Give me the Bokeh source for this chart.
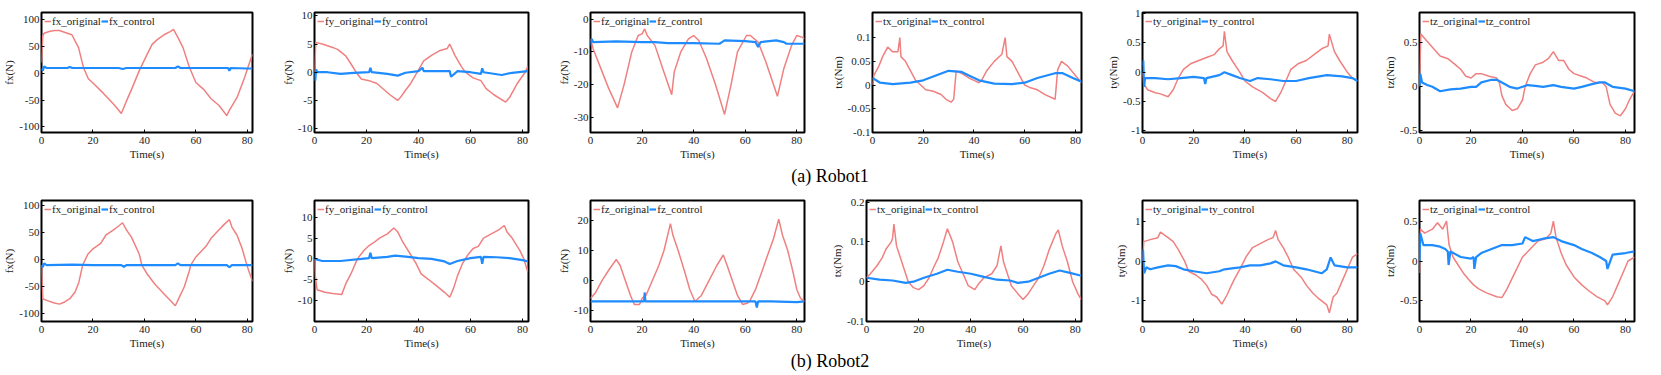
from bokeh.plotting import figure
from bokeh.models import Range1d, FixedTicker, CustomJSTickFormatter, Legend, LegendItem, Div
from bokeh.layouts import row, column
from bokeh.embed import file_html
from bokeh.resources import INLINE

RED = "#F08080"
BLUE = "#1E8CFF"
FONT = "Liberation Serif"

x_ticks = [0, 20, 40, 60, 80]
x_max = [82, 82.3, 83, 82.4, 84, 83.5]
names = ["fx", "fy", "fz", "tx", "ty", "tz"]
units = ["N", "N", "N", "Nm", "Nm", "Nm"]

# ---------------- Robot1 ----------------
r1_fx_ot = [0, 0.5, 1, 3, 5, 7, 10, 11.8, 14.4, 16.3, 18.2, 20, 24, 26.5, 29, 31, 33, 35, 38, 39.5, 41, 43, 45, 48, 50, 51.3, 53, 55, 57.5, 60, 63, 66, 69, 72, 73, 76, 79, 80.5, 82]
r1_fx_o = [20, 70, 75, 78, 80, 80, 75, 72, 48, 11, -10, -18, -37, -50, -63, -75, -52, -30, 5, 20, 35, 54, 63, 73, 78, 82, 67, 48, 11, -17, -30, -48, -60, -79, -69, -45, -7, 15, 36]
r1_fx_ct = [0, 0.5, 1, 2, 10, 11, 12, 20, 30, 31.5, 33, 45, 52, 53, 54, 65, 72.5, 73, 73.5, 80, 82]
r1_fx_c = [9, 5, 13, 10, 10, 12, 10, 10, 10, 8, 10, 10, 10, 13, 10, 10, 10, 5, 10, 9, 9]

r1_fy_ot = [0, 0.5, 3, 7, 9, 12, 14, 16, 18, 21, 24, 26, 29, 32, 33, 35, 37, 39.5, 42, 45, 48, 51, 52, 54, 56.5, 58, 61, 64, 66, 69, 73.5, 75, 78, 81, 82]
r1_fy_o = [0, 5.3, 5, 4.4, 4, 2.9, 1.5, 0, -1.2, -1.5, -2, -2.8, -4, -5, -4.5, -3.2, -2, 0, 2, 3, 3.8, 4.2, 5, 3, 1, 0, -1, -1.5, -2.9, -4, -5.3, -4.5, -2, 0, 1]
r1_fy_ct = [0, 0.3, 0.6, 1, 5, 10, 15, 21, 21.5, 22, 28, 32, 35, 40, 41.5, 42, 50, 52, 52.5, 55, 60, 64, 64.5, 65, 72, 76, 82]
r1_fy_c = [0, -1.5, 0.5, 0, 0, -0.3, -0.1, 0, 0.8, 0, -0.3, -0.6, -0.1, 0.2, 0.8, 0.2, 0.2, 0.2, -0.8, 0.2, 0, -0.3, 0.7, 0, -0.5, -0.1, 0.2]

r1_fz_ot = [0, 1, 4, 7, 10.5, 13, 16, 18.5, 20, 21, 22, 25, 28, 31.5, 32.5, 35, 38, 40, 42, 45, 48.5, 52, 54.5, 57, 60.5, 62, 65, 68, 72.5, 75, 78, 80, 82, 83]
r1_fz_o = [-6, -9, -15, -21, -27, -20, -10, -5, -4.5, -3, -5, -8, -15, -23, -16, -10, -6, -5, -6.5, -12, -20, -29, -20, -10, -5, -5, -7, -13, -23.5, -15, -8, -5, -5.5, -6]
r1_fz_ct = [0, 0.5, 1, 10, 20, 25, 30, 40, 50, 51, 52, 60, 64, 65, 66, 72, 75, 76, 83]
r1_fz_c = [-8, -6, -7, -6.8, -7, -7, -7.3, -7.3, -7.5, -7, -6.5, -6.7, -7, -8.5, -7, -6.5, -7, -7.5, -7.5]

r1_tx_ot = [0, 0.5, 2.5, 4, 6, 8, 10, 10.8, 11.2, 13, 15, 17, 19, 21, 24, 27, 29, 31, 32, 33, 35, 38, 40, 42, 43, 45, 48, 51, 52.3, 53, 55, 58, 60, 62, 65, 68, 72, 73, 74.5, 77, 80, 82.4]
r1_tx_o = [0, 0.02, 0.04, 0.06, 0.08, 0.07, 0.07, 0.1, 0.06, 0.05, 0.03, 0.01, 0, -0.01, -0.013, -0.02, -0.03, -0.036, -0.03, 0.03, 0.025, 0.015, 0.01, 0.005, 0.01, 0.03, 0.05, 0.065, 0.1, 0.06, 0.05, 0.02, 0, -0.005, -0.01, -0.02, -0.03, 0.032, 0.05, 0.04, 0.02, 0.005]
r1_tx_ct = [0, 3, 8, 15, 20, 25, 30, 35, 38, 42, 48, 55, 60, 65, 72, 75, 79, 82.4]
r1_tx_c = [0.015, 0.005, 0.002, 0.005, 0.01, 0.02, 0.03, 0.028, 0.02, 0.01, 0.003, 0.002, 0.005, 0.015, 0.025, 0.025, 0.015, 0.007]

r1_ty_ot = [0, 0.5, 2, 5, 7, 10, 12, 14, 16, 19, 22, 25, 28, 30, 31.5, 32, 33, 35, 38, 40, 43, 47, 50, 52, 54, 56, 58, 61, 64, 67, 70, 72.5, 73, 75, 77, 80, 82, 84]
r1_ty_o = [0, -0.2, -0.3, -0.35, -0.37, -0.42, -0.3, -0.1, 0.05, 0.15, 0.2, 0.25, 0.3, 0.4, 0.45, 0.7, 0.35, 0.2, 0, -0.15, -0.25, -0.35, -0.45, -0.5, -0.35, -0.15, 0.05, 0.15, 0.2, 0.3, 0.4, 0.45, 0.65, 0.35, 0.2, 0, -0.1, -0.15]
r1_ty_ct = [0, 0.3, 0.6, 1, 5, 10, 15, 20, 24, 24.5, 25, 30, 32, 35, 38, 42, 45, 50, 55, 60, 65, 72, 78, 82, 84]
r1_ty_c = [0.1, 0.2, -0.25, -0.1, -0.1, -0.12, -0.1, -0.08, -0.1, -0.2, -0.1, -0.05, 0, -0.05, -0.1, -0.15, -0.1, -0.12, -0.15, -0.15, -0.1, -0.05, -0.07, -0.1, -0.15]

r1_tz_ot = [0, 0.5, 2, 5, 8, 11, 14, 16, 18, 20, 22, 24, 27, 30, 31, 32, 33.5, 36, 38, 40, 41, 43, 45, 48, 50, 52, 54, 56, 58, 60, 63, 65, 68, 71, 72.5, 74, 76, 78, 80, 81.5, 83.5]
r1_tz_o = [0, 0.6, 0.55, 0.45, 0.35, 0.32, 0.25, 0.2, 0.12, 0.1, 0.15, 0.15, 0.12, 0.1, 0.05, -0.1, -0.2, -0.27, -0.25, -0.15, 0, 0.15, 0.25, 0.28, 0.32, 0.4, 0.3, 0.3, 0.2, 0.15, 0.12, 0.1, 0.05, 0.05, 0, -0.2, -0.3, -0.33, -0.25, -0.15, -0.05]
r1_tz_ct = [0, 0.3, 1, 3, 5, 8, 12, 16, 20, 22, 24, 28, 30, 32, 35, 38, 42, 45, 48, 52, 55, 60, 63, 67, 70, 72, 75, 80, 83.5]
r1_tz_c = [0, 0.15, 0.05, 0.02, 0, -0.05, -0.03, -0.02, 0, 0, 0.05, 0.08, 0.08, 0.05, 0, -0.02, 0.02, 0.01, 0, 0.02, 0, -0.02, 0, 0.03, 0.05, 0.05, 0, -0.02, -0.05]

# ---------------- Robot2 ----------------
r2_fx_ot = [0, 0.5, 2, 5, 7, 9, 11, 13, 14.5, 16, 18, 20, 23, 25, 28, 30, 31.5, 33, 35, 38, 39, 41, 44, 46, 48, 50, 52, 53.5, 55.5, 57.5, 58, 60, 62, 64, 66, 69, 71, 73, 74, 76, 78, 79.5, 80.5, 82]
r2_fx_o = [-10, -72, -75, -80, -82, -78, -72, -60, -42, -10, 10, 20, 30, 45, 55, 62, 68, 55, 41, 10, -10, -26, -45, -55, -65, -75, -85, -70, -50, -20, -10, 5, 15, 25, 40, 55, 65, 74, 60, 45, 20, -5, -20, -40]
r2_fx_ct = [0, 0.5, 1, 2, 12, 20, 31, 32, 33, 45, 52, 53, 54, 72, 73, 74, 82]
r2_fx_c = [-10, -14, -7, -10, -9, -10, -10, -13, -10, -10, -10, -7, -10, -10, -14, -10, -10]

r2_fy_ot = [0, 0.3, 1, 4, 7, 10.5, 12, 14, 16.5, 19, 21, 23, 25, 28, 30.5, 32, 34, 37, 39, 41, 44, 46, 48, 50, 52, 53.5, 55, 57, 59, 61, 63, 65, 68, 71, 73, 74, 76, 79, 80.5, 82]
r2_fy_o = [0, -4, -7.4, -8, -8.3, -8.5, -6, -3.6, 0, 2, 3.2, 4, 5, 6, 7.4, 6.5, 4, 1, -1, -3.6, -5, -6, -7, -8, -9.2, -7, -4, -1, 1, 2.5, 3, 5, 6, 7, 8, 6.5, 5, 2, 0, -3]
r2_fy_ct = [0, 3, 10, 18, 21, 21.5, 22, 28, 31, 36, 40, 45, 50, 52, 55, 60, 64, 64.5, 65, 70, 75, 80, 82]
r2_fy_c = [0, -0.5, -0.5, 0, 0.2, 1.5, 0.2, 0.5, 0.8, 0.5, 0.2, 0, -0.6, -1.2, -0.5, 0.2, 0.5, -1.2, 0.5, 0.4, 0.2, -0.3, -0.6]

r2_fz_ot = [0, 2, 4.5, 7.5, 10, 11.5, 13.5, 15.5, 17, 19, 20, 21.5, 24, 26.5, 28.5, 31, 32, 34, 36.5, 38.5, 40.5, 43, 46, 49, 51.5, 53, 55, 57, 59, 61, 62, 64, 66.5, 68.5, 71, 73, 74.5, 76.5, 78.5, 80, 81.5, 83]
r2_fz_o = [-6, -4, 0, 4, 7, 5, 0, -5, -8, -8, -6, -5, 0, 5, 10, 19, 15, 10, 3, -3, -7, -5, 0, 5, 8.5, 5, 0, -5, -8, -7.5, -6.5, -3, 3, 8, 14, 20.5, 15, 10, 3, -3, -6, -7]
r2_fz_ct = [0, 10, 20.8, 21, 21.3, 30, 40, 50, 60, 64, 64.5, 65, 70, 80, 83]
r2_fz_c = [-7, -7, -7, -4, -7, -7, -7, -7, -7, -7, -9, -7, -7, -7.2, -7]

r2_tx_ot = [0, 1.5, 4, 6, 7.5, 9.5, 10, 10.5, 11.5, 13, 14.5, 16, 18, 20, 22, 24, 26, 27.5, 29.5, 31, 33, 35, 37, 39, 41.5, 43, 45, 48, 50, 51.5, 52.5, 54, 55.5, 58, 60, 62, 64, 66, 68, 70, 72.5, 73.5, 75, 77, 79, 81, 82.3]
r2_tx_o = [0.01, 0.02, 0.04, 0.06, 0.082, 0.1, 0.11, 0.145, 0.09, 0.06, 0.03, 0, -0.015, -0.02, -0.01, 0.01, 0.04, 0.06, 0.1, 0.133, 0.1, 0.05, 0.02, -0.01, -0.02, -0.005, 0.01, 0.02, 0.04, 0.09, 0.05, 0.02, -0.01, -0.03, -0.045, -0.03, -0.01, 0.01, 0.04, 0.08, 0.12, 0.13, 0.09, 0.05, 0, -0.03, -0.045]
r2_tx_ct = [0, 5, 10, 15, 18, 22, 27, 31, 35, 40, 45, 50, 55, 58, 62, 66, 70, 74, 78, 82.3]
r2_tx_c = [0.01, 0.005, 0.003, -0.003, 0, 0.01, 0.02, 0.03, 0.025, 0.02, 0.012, 0.005, 0.003, -0.003, 0, 0.01, 0.02, 0.028, 0.022, 0.015]

r2_ty_ot = [0, 0.5, 3, 6, 7, 10, 12, 14, 16.5, 18, 21, 23, 25, 27, 29, 31, 33, 35.5, 38, 40.5, 43, 46, 49, 51, 52, 53, 55, 57, 59, 62, 64, 66.5, 69, 72, 73, 74.5, 76, 78, 80, 82, 84]
r2_ty_o = [0, 0.5, 0.55, 0.6, 0.74, 0.6, 0.5, 0.3, 0, -0.25, -0.35, -0.45, -0.6, -0.83, -0.9, -1.08, -0.85, -0.5, -0.2, 0.12, 0.35, 0.45, 0.55, 0.6, 0.78, 0.55, 0.35, 0.1, -0.2, -0.4, -0.6, -0.8, -0.95, -1.1, -1.3, -0.9, -0.8, -0.5, -0.2, 0.1, 0.2]
r2_ty_ct = [0, 0.2, 0.6, 1.5, 3, 6, 10, 13, 16, 20, 25, 30, 32, 38, 42, 46, 50, 52, 55, 60, 64, 70, 72, 73.5, 75, 80, 84]
r2_ty_c = [0, 0.3, -0.3, -0.15, -0.2, -0.15, -0.1, -0.12, -0.2, -0.25, -0.3, -0.25, -0.2, -0.15, -0.1, -0.1, -0.05, 0, -0.1, -0.15, -0.2, -0.3, -0.2, 0.1, -0.1, -0.15, -0.15]

r2_tz_ot = [0, 0.3, 2, 5, 7, 9, 10.5, 11.5, 13, 15, 17, 19, 21, 23, 26, 30, 32, 34, 37, 40, 43, 46, 49, 51, 52, 53, 55, 57, 60, 63, 66, 69, 72, 73, 75, 77, 79, 81, 83.5]
r2_tz_o = [-0.15, 0.4, 0.35, 0.4, 0.48, 0.4, 0.5, 0.2, 0.05, -0.05, -0.15, -0.23, -0.3, -0.35, -0.4, -0.45, -0.46, -0.35, -0.15, 0.05, 0.15, 0.25, 0.28, 0.35, 0.5, 0.3, 0.1, -0.05, -0.2, -0.3, -0.38, -0.45, -0.5, -0.55, -0.45, -0.3, -0.15, 0, 0.05]
r2_tz_ct = [0, 0.3, 1.5, 5, 8, 10, 11, 11.3, 12, 16, 20, 21, 21.3, 22, 24, 28, 32, 36, 40, 41, 44, 48, 52, 55, 60, 63, 67, 70, 72.5, 73, 75, 80, 83.5]
r2_tz_c = [0, 0.35, 0.2, 0.2, 0.18, 0.15, 0.12, -0.05, 0.12, 0.05, 0.03, 0.05, -0.1, 0.05, 0.1, 0.15, 0.2, 0.2, 0.22, 0.3, 0.25, 0.28, 0.3, 0.25, 0.2, 0.15, 0.1, 0.05, 0, -0.1, 0.08, 0.1, 0.12]

# axis ranges and ticks
r1_yranges = [(-110.5, 113.6), (-10.7, 10.6), (-34.5, 2), (-0.1, 0.153), (-1.03, 1.02), (-0.52, 0.846)]
r1_yticks = [[-100, -50, 0, 50, 100], [-10, -5, 0, 5, 10], [-30, -20, -10, 0], [-0.1, -0.05, 0, 0.05, 0.1], [-1, -0.5, 0, 0.5, 1], [-0.5, 0, 0.5]]
r2_yranges = [(-114, 109), (-15, 14), (-13.7, 26.7), (-0.1, 0.204), (-1.52, 1.54), (-0.76, 0.76)]
r2_yticks = [[-100, -50, 0, 50, 100], [-10, -5, 0, 5, 10], [-10, 0, 10, 20], [-0.1, 0, 0.1, 0.2], [-1, 0, 1], [-0.5, 0, 0.5]]

r1_data = [(r1_fx_ot, r1_fx_o, r1_fx_ct, r1_fx_c), (r1_fy_ot, r1_fy_o, r1_fy_ct, r1_fy_c),
           (r1_fz_ot, r1_fz_o, r1_fz_ct, r1_fz_c), (r1_tx_ot, r1_tx_o, r1_tx_ct, r1_tx_c),
           (r1_ty_ot, r1_ty_o, r1_ty_ct, r1_ty_c), (r1_tz_ot, r1_tz_o, r1_tz_ct, r1_tz_c)]
r2_data = [(r2_fx_ot, r2_fx_o, r2_fx_ct, r2_fx_c), (r2_fy_ot, r2_fy_o, r2_fy_ct, r2_fy_c),
           (r2_fz_ot, r2_fz_o, r2_fz_ct, r2_fz_c), (r2_tx_ot, r2_tx_o, r2_tx_ct, r2_tx_c),
           (r2_ty_ot, r2_ty_o, r2_ty_ct, r2_ty_c), (r2_tz_ot, r2_tz_o, r2_tz_ct, r2_tz_c)]

# layout (pixels from page origin): frame left / right edges of each panel
FIRST_B = 41
LEFT_B = 46
r1_left = [FIRST_B, 314, 590, 872, 1142, 1419]
r2_left = [FIRST_B, 314, 590, 866, 1142, 1419]
frame_right = [252, 528, 804, 1081, 1357, 1634]


def make_panel(k, data, yr, yt, lefts, frame_h, top_b):
    t_o, v_o, t_c, v_c = data
    fw = frame_right[k] - lefts[k]
    lb = FIRST_B if k == 0 else LEFT_B
    rb = (lefts[k + 1] - LEFT_B) - frame_right[k] if k < 5 else 19
    p = figure(frame_width=fw, frame_height=frame_h, title=None,
               x_range=Range1d(0, x_max[k]), y_range=Range1d(*yr),
               output_backend="svg", toolbar_location=None,
               min_border_left=lb, min_border_right=rb, min_border_top=top_b,
               min_border_bottom=31)
    ro = p.line(t_o, v_o, line_color=RED, line_width=1.5)
    rc = p.line(t_c, v_c, line_color=BLUE, line_width=2.2)
    p.xgrid.visible = False
    p.ygrid.visible = False
    p.outline_line_color = "black"
    p.outline_line_width = 2
    p.outline_line_alpha = 1
    p.background_fill_color = "white"
    p.border_fill_color = "white"
    p.xaxis.ticker = FixedTicker(ticks=x_ticks)
    p.yaxis.ticker = FixedTicker(ticks=yt)
    p.yaxis.formatter = CustomJSTickFormatter(code="return String(tick);")
    p.xaxis.formatter = CustomJSTickFormatter(code="return String(tick);")
    for ax in (p.xaxis[0], p.yaxis[0]):
        ax.axis_line_color = None
        ax.major_tick_in = 3
        ax.major_tick_out = 0
        ax.minor_tick_line_color = None
        ax.major_tick_line_color = "black"
        ax.major_label_text_font = FONT
        ax.major_label_text_font_size = "11px"
        ax.major_label_text_color = "#222222"
        ax.axis_label_text_font = FONT
        ax.axis_label_text_font_size = "11px"
        ax.axis_label_text_font_style = "normal"
        ax.axis_label_text_color = "#222222"
    p.xaxis.major_label_standoff = 4
    p.xaxis.axis_label_standoff = 1
    p.yaxis.major_label_standoff = 2
    p.yaxis.axis_label_standoff = 1
    p.xaxis.axis_label = "Time(s)"
    p.yaxis.axis_label = f"{names[k]}({units[k]})"
    legend = Legend(items=[LegendItem(label=f"{names[k]}_original", renderers=[ro]),
                           LegendItem(label=f"{names[k]}_control", renderers=[rc])],
                    orientation="horizontal", location="top_left",
                    margin=2, padding=1, spacing=0, glyph_width=7, glyph_height=10,
                    label_standoff=1, label_height=10, label_text_font=FONT,
                    label_text_font_size="11px", label_text_color="#222222",
                    background_fill_alpha=0, border_line_alpha=0)
    p.add_layout(legend)
    return p


row1 = [make_panel(k, r1_data[k], r1_yranges[k], r1_yticks[k], r1_left, 120, 12) for k in range(6)]
row2 = [make_panel(k, r2_data[k], r2_yranges[k], r2_yticks[k], r2_left, 121, 12) for k in range(6)]

cap_base = {"text-align": "center", "font-family": FONT, "font-size": "18px", "color": "#000000"}
cap1 = Div(text="(a) Robot1", width=1660, height=25, margin=(0, 0, 0, 0),
           styles=dict(cap_base, **{"line-height": "26px"}))
cap2 = Div(text="(b) Robot2", width=1660, height=22, margin=(0, 0, 0, 0),
           styles=dict(cap_base, **{"line-height": "18px"}))

layout = column(row(*row1), cap1, row(*row2), cap2)

open("out.html", "w").write(file_html(layout, INLINE))
